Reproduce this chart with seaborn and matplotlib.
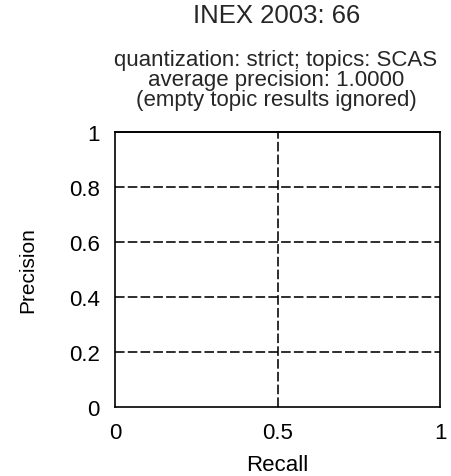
import numpy as np
import pandas as pd
import seaborn as sns
import matplotlib.pyplot as plt

# precision/recall curve (average precision is 1.0, so the curve sits on the top border)
recall = [0.0, 1.0]
precision = [1.0, 1.0]

x_ticks = [0, 0.5, 1]
x_tick_labels = ['0', '0.5', '1']
y_ticks = [0, 0.2, 0.4, 0.6, 0.8, 1]
y_tick_labels = ['0', '0.2', '0.4', '0.6', '0.8', '1']

title = 'INEX 2003: 66'
subtitle_lines = [
    'quantization: strict; topics: SCAS',
    'average precision: 1.0000',
    '(empty topic results ignored)',
]

sns.set_style('white')
plt.rcParams['font.family'] = ['Liberation Sans', 'DejaVu Sans']

W, H = 451, 477
fig = plt.figure(figsize=(W / 100, H / 100), dpi=100)
ax = fig.add_axes([115 / W, 1 - 408 / H, 325 / W, 275 / H])

df = pd.DataFrame({'Recall': recall, 'Precision': precision})
sns.lineplot(data=df, x='Recall', y='Precision', ax=ax, color='black',
             linewidth=1.2, clip_on=False)

ax.set_xlim(0, 1)
ax.set_ylim(0, 1)
ax.set_xticks(x_ticks, x_tick_labels)
ax.set_yticks(y_ticks, y_tick_labels)
ax.tick_params(length=0, pad=11, labelsize=16, colors='black')

# dashed grid only on the inner ticks (the outer ones lie on the frame)
ax.grid(False)
for xv in x_ticks[1:-1]:
    ax.axvline(xv, color='black', linestyle=(0, (6, 2)), linewidth=1.15, zorder=1)
for yv in y_ticks[1:-1]:
    ax.axhline(yv, color='black', linestyle=(0, (6, 2)), linewidth=1.15, zorder=1)

for s in ax.spines.values():
    s.set_visible(True)
    s.set_color('black')
    s.set_linewidth(1.2)

ax.set_xlabel('Recall', fontsize=16, color='black')
ax.xaxis.set_label_coords(0.5, (408 - 455) / 275)
ax.set_ylabel('Precision', fontsize=15, color='black')
ax.yaxis.set_label_coords((37 - 115) / 325, 0.5)

fig.text(277 / W, 1 - 23 / H, title, ha='center', va='baseline', fontsize=18.5)
for line, base in zip(subtitle_lines, [66, 86, 106]):
    fig.text(276 / W, 1 - base / H, line, ha='center', va='baseline', fontsize=16)

fig.savefig('out.png', dpi=100)
